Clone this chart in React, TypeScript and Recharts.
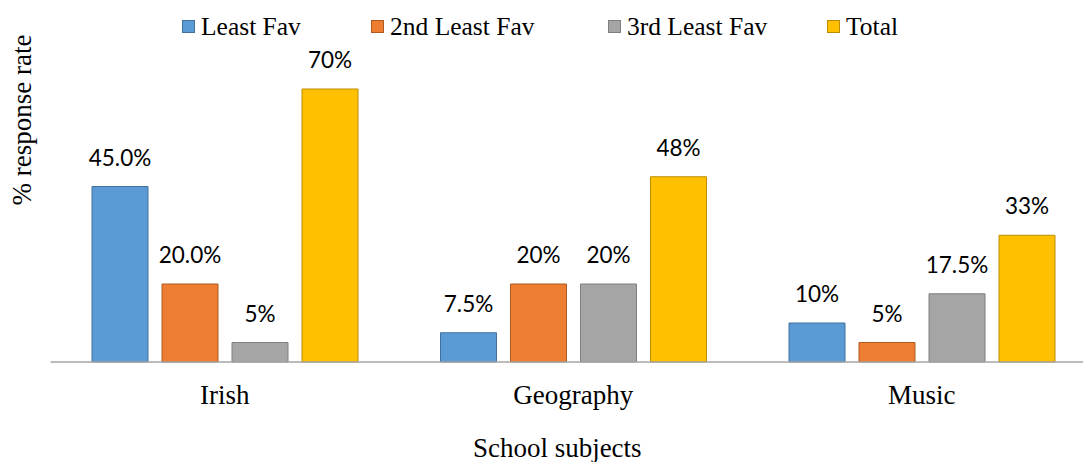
import React from 'react';
import { BarChart, Bar, XAxis, YAxis, Legend, LabelList } from 'recharts';

const categories = ['Irish', 'Geography', 'Music'];
const leastFav = [45, 7.5, 10];
const secondLeastFav = [20, 20, 5];
const thirdLeastFav = [5, 20, 17.5];
const total = [70, 47.5, 32.5];
const leastFavLabels = ['45.0%', '7.5%', '10%'];
const secondLeastFavLabels = ['20.0%', '20%', '5%'];
const thirdLeastFavLabels = ['5%', '20%', '17.5%'];
const totalLabels = ['70%', '48%', '33%'];
const seriesNames = ['Least Fav', '2nd Least Fav', '3rd Least Fav', 'Total'];
const fills = ['#5B9BD5', '#ED7D31', '#A5A5A5', '#FFC000'];
const strokes = ['#41719C', '#AE5A21', '#7F7F7F', '#BC8C00'];

const data = categories.map((c, i) => ({
  category: c,
  least: leastFav[i],
  second: secondLeastFav[i],
  third: thirdLeastFav[i],
  total: total[i],
  leastLabel: leastFavLabels[i],
  secondLabel: secondLeastFavLabels[i],
  thirdLabel: thirdLeastFavLabels[i],
  totalLabel: totalLabels[i],
}));

const SERIF = "'Liberation Serif', 'Times New Roman', serif";
const LABEL_FONT = "Lato, 'Open Sans', sans-serif";

const renderLabel = (props: any) => {
  const { x, y, width, value } = props;
  return (
    <text
      x={Number(x) + Number(width) / 2}
      y={Number(y) - 21}
      textAnchor="middle"
      fontFamily={LABEL_FONT}
      fontSize={22.5}
      fill="#000"
    >
      {value}
    </text>
  );
};

const legendX = [174, 363, 600, 819];

const renderLegend = () => (
  <div style={{ position: 'relative', height: 0 }}>
    <svg
      width={1083}
      height={45}
      style={{ position: 'absolute', left: 0, top: 0, overflow: 'visible' }}
    >
      {seriesNames.map((name, i) => (
        <g key={name}>
          <rect
            x={legendX[i] + 0.5}
            y={12.5}
            width={12}
            height={12}
            fill={fills[i]}
            stroke={strokes[i]}
            strokeWidth={1}
          />
          <text x={legendX[i] + 19} y={27} fontFamily={SERIF} fontSize={25.5} fill="#000">
            {name}
          </text>
        </g>
      ))}
    </svg>
  </div>
);

const renderTick = (props: any) => {
  const { x, y, payload } = props;
  return (
    <text x={x} y={Number(y) + 42} textAnchor="middle" fontFamily={SERIF} fontSize={27} fill="#000">
      {payload.value}
    </text>
  );
};

const XLabel = (props: any) => {
  const vb = props.viewBox || {};
  return (
    <text
      x={Number(vb.x) + Number(vb.width) / 2 - 16}
      y={449}
      textAnchor="middle"
      fontFamily={SERIF}
      fontSize={27}
      fill="#000"
    >
      School subjects
    </text>
  );
};

const YLabel = () => {
  const x = 22.5;
  const y = 112;
  return (
    <text
      x={x}
      y={y}
      transform={`rotate(-90, ${x}, ${y})`}
      textAnchor="middle"
      fontFamily={SERIF}
      fontSize={27}
      fill="#000"
    >
      % response rate
    </text>
  );
};

export default function App() {
  return (
    <div style={{ width: 1083, height: 454, overflow: 'hidden', background: '#fff' }}>
      <BarChart
        width={1088}
        height={454}
        data={data}
        margin={{ top: 42, right: 0, bottom: 0, left: 0 }}
        barGap={14}
        barCategoryGap={41.5}
      >
        <Legend
          verticalAlign="top"
          align="left"
          wrapperStyle={{ top: 0, left: 0, width: 1083, height: 0 }}
          content={renderLegend}
        />
        <XAxis
          dataKey="category"
          height={100}
          tickSize={0}
          tickMargin={0}
          tickLine={false}
          axisLine={{ stroke: '#A6A6A6', strokeWidth: 1.3 }}
          tick={renderTick}
          interval={0}
          label={<XLabel />}
        />
        <YAxis
          width={42.5}
          domain={[0, 80]}
          tick={false}
          tickLine={false}
          axisLine={false}
          label={<YLabel />}
        />
        <Bar dataKey="least" name={seriesNames[0]} fill={fills[0]} stroke={strokes[0]} strokeWidth={1} isAnimationActive={false}>
          <LabelList dataKey="leastLabel" content={renderLabel} />
        </Bar>
        <Bar dataKey="second" name={seriesNames[1]} fill={fills[1]} stroke={strokes[1]} strokeWidth={1} isAnimationActive={false}>
          <LabelList dataKey="secondLabel" content={renderLabel} />
        </Bar>
        <Bar dataKey="third" name={seriesNames[2]} fill={fills[2]} stroke={strokes[2]} strokeWidth={1} isAnimationActive={false}>
          <LabelList dataKey="thirdLabel" content={renderLabel} />
        </Bar>
        <Bar dataKey="total" name={seriesNames[3]} fill={fills[3]} stroke={strokes[3]} strokeWidth={1} isAnimationActive={false}>
          <LabelList dataKey="totalLabel" content={renderLabel} />
        </Bar>
      </BarChart>
    </div>
  );
}
